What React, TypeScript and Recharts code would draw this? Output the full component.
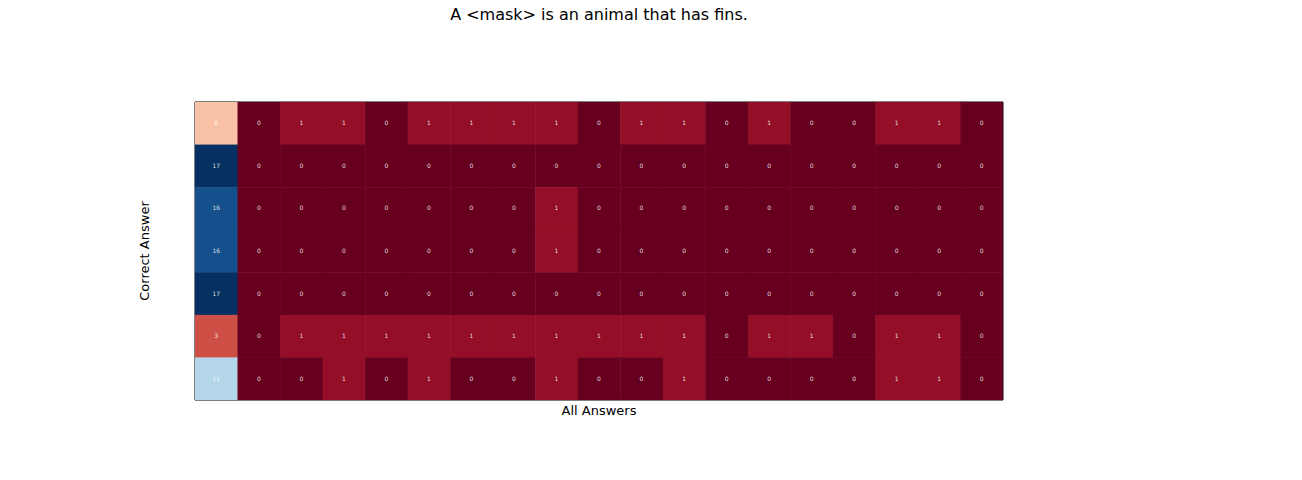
import React from 'react'
import { ScatterChart, Scatter, XAxis, YAxis, ReferenceArea } from 'recharts'

const answers = ['correct answer', 'amazon', 'fox', 'hen', 'tern', 'owl', 'ape', 'dog', 'bird', 'tom',
  'hound', 'jay', 'ruff', 'monkey', 'cock', 'crow', 'cat', 'em', 'other']
const rowsNames = ['runner', 'fish', 'jack', 'cod', 'ling', 'bass', 'gar']
const runner = [6, 0, 1, 1, 0, 1, 1, 1, 1, 0, 1, 1, 0, 1, 0, 0, 1, 1, 0]
const fish = [17, 0, 0, 0, 0, 0, 0, 0, 0, 0, 0, 0, 0, 0, 0, 0, 0, 0, 0]
const jack = [16, 0, 0, 0, 0, 0, 0, 0, 1, 0, 0, 0, 0, 0, 0, 0, 0, 0, 0]
const cod = [16, 0, 0, 0, 0, 0, 0, 0, 1, 0, 0, 0, 0, 0, 0, 0, 0, 0, 0]
const ling = [17, 0, 0, 0, 0, 0, 0, 0, 0, 0, 0, 0, 0, 0, 0, 0, 0, 0, 0]
const bass = [3, 0, 1, 1, 1, 1, 1, 1, 1, 1, 1, 1, 0, 1, 1, 0, 1, 1, 0]
const gar = [11, 0, 0, 1, 0, 1, 0, 0, 1, 0, 0, 1, 0, 0, 0, 0, 1, 1, 0]
const matrix = [runner, fish, jack, cod, ling, bass, gar]
const cbTicks = [0, 2, 4, 6, 8, 10, 12, 14, 16]
const VMAX = 17

const RDBU = ['#67001f', '#b2182b', '#d6604d', '#f4a582', '#fddbc7', '#f7f7f7',
  '#d1e5f0', '#92c5de', '#4393c3', '#2166ac', '#053061']

function hex(c: string) { return [1, 3, 5].map(i => parseInt(c.slice(i, i + 2), 16)) }
function cmap(v: number) {
  const t = Math.max(0, Math.min(1, v / VMAX)) * (RDBU.length - 1)
  const i = Math.min(RDBU.length - 2, Math.floor(t)), f = t - i
  const a = hex(RDBU[i]), b = hex(RDBU[i + 1])
  const c = a.map((x, k) => Math.round(x + (b[k] - x) * f))
  return `rgb(${c[0]},${c[1]},${c[2]})`
}

const cells = matrix.flatMap((row, r) => row.map((v, c) => ({ x: c, y: r, v })))

const FONT = 'DejaVu Sans, sans-serif'
const CW = 808 / 19, CH = 298 / 7

const Cell = (p: any) => {
  const { cx, cy, payload } = p
  return (
    <g>
      <rect x={cx - CW / 2} y={cy - CH / 2} width={CW + 0.5} height={CH + 0.5} fill={cmap(payload.v)} />
      <text x={cx} y={cy + 2} textAnchor="middle" fontSize={6} fill="#fff" fillOpacity={0.85} fontFamily={FONT}>{payload.v}</text>
    </g>
  )
}

const TopTick = (p: any) => {
  const { x, y, payload } = p
  return (
    <text x={x} y={y} transform={`rotate(-90 ${x} ${y})`} dy={2.5} fontSize={7} fill="#000" fontFamily={FONT}>
      {answers[payload.value]}
    </text>
  )
}

export default function App() {
  const xt = answers.map((_, i) => i)
  const yt = rowsNames.map((_, i) => i)
  return (
    <div style={{ position: 'absolute', left: 0, top: 0, width: 1302, height: 480, background: '#fff', fontFamily: FONT }}>
      <div style={{ position: 'absolute', left: 195, width: 808, top: 5, textAlign: 'center', fontSize: 16 }}>
        A &lt;mask&gt; is an animal that has fins.
      </div>
      <div style={{ position: 'absolute', left: 599, top: 403, transform: 'translateX(-50%)', fontSize: 13 }}>All Answers</div>
      <div style={{ position: 'absolute', left: 144, top: 251, transform: 'translate(-50%,-50%) rotate(-90deg)', fontSize: 13, whiteSpace: 'nowrap' }}>
        Correct Answer
      </div>
      <div style={{ position: 'absolute', left: 0, top: 0 }}>
        <ScatterChart width={1302} height={480} margin={{ top: 102, left: 195, right: 299, bottom: 80 }}>
          <XAxis xAxisId="b" type="number" dataKey="x" domain={[-0.5, 18.5]} ticks={xt} orientation="bottom" height={0}
            tick={false} tickSize={4} stroke="#000" allowDataOverflow />
          <XAxis xAxisId="t" type="number" dataKey="x" domain={[-0.5, 18.5]} ticks={xt} orientation="top" height={0}
            tick={<TopTick />} tickSize={4} stroke="#000" allowDataOverflow />
          <YAxis yAxisId="l" type="number" dataKey="y" domain={[-0.5, 6.5]} ticks={yt} reversed width={0} stroke="#000"
            tickSize={4} tickFormatter={(v: number) => rowsNames[v]} tick={{ fontSize: 7, fill: '#000', fontFamily: FONT }} allowDataOverflow />
          <YAxis yAxisId="r" orientation="right" type="number" domain={[-0.5, 6.5]} width={0} stroke="#000" tick={false} tickLine={false} />
          <Scatter data={cells} xAxisId="b" yAxisId="l" shape={<Cell />} isAnimationActive={false} />
          <ReferenceArea xAxisId="b" yAxisId="l" x1={-0.5} x2={18.5} y1={-0.5} y2={6.5} fill="none" stroke="#000" strokeWidth={1} ifOverflow="visible" />
        </ScatterChart>
      </div>
      <div style={{ position: 'absolute', left: 1000, top: 0 }}>
        <ScatterChart width={120} height={480} margin={{ top: 66, left: 53, right: 48, bottom: 43 }}>
          <defs>
            <linearGradient id="cb" x1="0" y1="1" x2="0" y2="0">
              {RDBU.map((c, i) => <stop key={i} offset={i / (RDBU.length - 1)} stopColor={c} />)}
            </linearGradient>
          </defs>
          <XAxis type="number" dataKey="x" domain={[0, 1]} hide />
          <YAxis type="number" dataKey="y" domain={[0, VMAX]} ticks={cbTicks} orientation="right" width={0} stroke="#000"
            tickSize={4} tick={{ fontSize: 13, fill: '#000', fontFamily: FONT }} />
          <ReferenceArea x1={0} x2={1} y1={0} y2={VMAX} fill="url(#cb)" fillOpacity={1} stroke="#000" strokeWidth={1} />
          <Scatter data={[]} isAnimationActive={false} />
        </ScatterChart>
      </div>
    </div>
  )
}
